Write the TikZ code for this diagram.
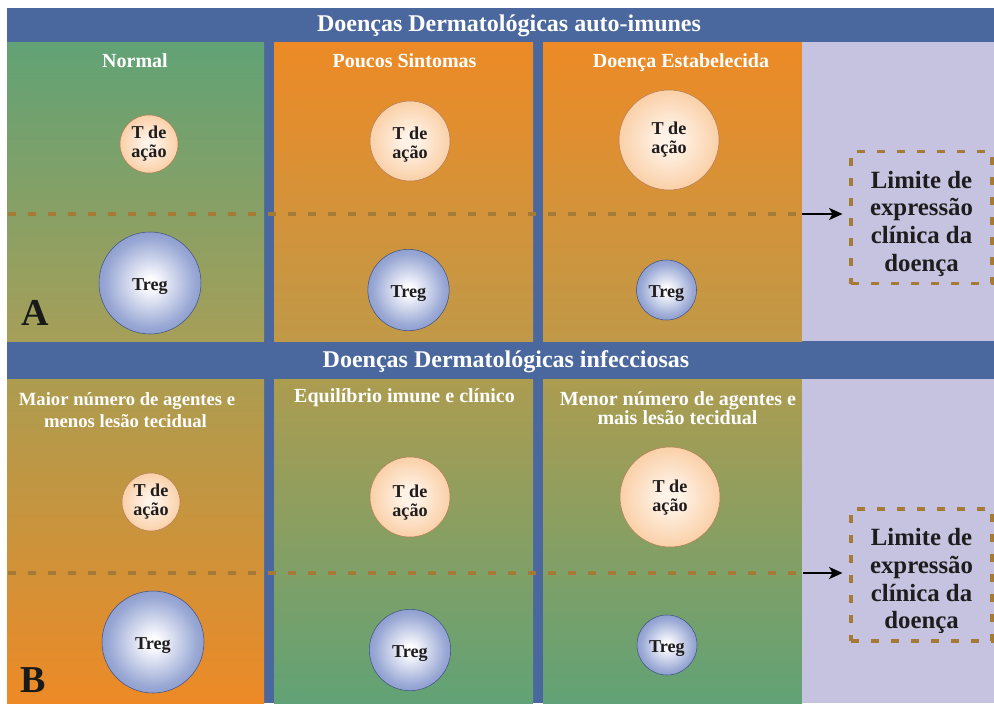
\documentclass[tikz,border=0pt]{standalone}
\usepackage{fontspec}
\setmainfont{Liberation Serif}
\usetikzlibrary{arrows.meta}
\definecolor{frameblue}{RGB}{75,104,158}
\definecolor{lav}{RGB}{197,195,224}
\definecolor{grn}{RGB}{97,162,118}
\definecolor{org}{RGB}{237,138,38}
\definecolor{oliveA}{RGB}{166,159,88}
\definecolor{oliveB}{RGB}{192,153,72}
\definecolor{oliveC}{RGB}{172,156,80}
\definecolor{dashc}{RGB}{164,122,54}
\definecolor{tcenter}{RGB}{255,242,230}
\definecolor{tmid}{RGB}{250,208,168}
\definecolor{tedge}{RGB}{243,166,102}
\definecolor{tline}{RGB}{180,125,85}
\definecolor{rcenter}{RGB}{252,252,255}
\definecolor{rmid}{RGB}{152,167,212}
\definecolor{redge}{RGB}{80,102,166}
\definecolor{rline}{RGB}{62,82,135}
\definecolor{txt}{RGB}{30,28,28}
\pgfdeclareradialshading{tshade}{\pgfpoint{0bp}{0bp}}{color(0bp)=(tcenter); color(5bp)=(tcenter); color(25bp)=(tmid); color(50bp)=(tedge)}
\pgfdeclareradialshading{rshade}{\pgfpoint{0bp}{0bp}}{color(0bp)=(rcenter); color(3bp)=(rcenter); color(22bp)=(rmid); color(50bp)=(redge)}
\newcommand{\limtext}{\raisebox{-5pt}[\height][\depth]{\begin{tabular}{@{}c@{}}Limite de\\expressão\\clínica da\\doença\end{tabular}}}
\newcommand{\tdeacao}[1]{\raisebox{#1}[\height][\depth]{\begin{tabular}{@{}c@{}}T de\\ação\end{tabular}}}
\newcommand{\tregtext}{\raisebox{-2.5pt}[\height][\depth]{Treg}}
\tikzset{
 hdr/.style={text=white, font=\fontsize{18pt}{21pt}\selectfont\bfseries, anchor=base, inner sep=0},
 colh/.style={text=white, font=\fontsize{15pt}{18pt}\selectfont\bfseries, anchor=base, inner sep=0},
 colhs/.style={text=white, font=\fontsize{14pt}{17pt}\selectfont\bfseries, anchor=base, inner sep=0},
 tcell/.style={circle, inner sep=0, shade, shading=tshade, draw=tline, line width=0.4pt, text=txt, font=\fontsize{13.6pt}{14.2pt}\selectfont\bfseries},
 tregcell/.style={circle, inner sep=0, shade, shading=rshade, draw=rline, line width=0.4pt, text=txt, font=\fontsize{13.6pt}{14.4pt}\selectfont\bfseries},
 limbox/.style={draw=dashc, line width=2.3pt, dash pattern=on 6pt off 9pt, minimum width=105.75pt, minimum height=99pt, text=txt, font=\fontsize{18.6pt}{20.8pt}\selectfont\bfseries, inner sep=0},
 limline/.style={draw=dashc, line width=3pt, dash pattern=on 6pt off 9pt},
 arr/.style={-{Stealth[length=10pt,width=9pt,inset=2.5pt]}, line width=1.5pt, black},
 letter/.style={font=\fontsize{28.5pt}{30pt}\selectfont\bfseries, text=black!90, anchor=base west, inner sep=0},
}
\begin{document}
\begin{tikzpicture}[x=0.75pt,y=-0.75pt]
\useasboundingbox (0,0) rectangle (994,703);
\fill[white] (0,0) rectangle (994,703);
\fill[frameblue] (7,8) rectangle (994,703);
% row A panels
\shade[top color=grn, bottom color=oliveA] (7,42) rectangle (264,341);
\shade[top color=org, bottom color=oliveB] (274,42) rectangle (533,341);
\shade[top color=org, bottom color=oliveB] (543,42) rectangle (802,341);
\fill[lav] (802,42) rectangle (994,341);
% row B panels
\shade[top color=oliveC, bottom color=org] (7,379) rectangle (264,703);
\shade[top color=oliveC, bottom color=grn] (274,379) rectangle (533,703);
\shade[top color=oliveC, bottom color=grn] (543,379) rectangle (802,703);
\fill[lav] (802,379) rectangle (994,703);
% headers
\node[hdr] (tA) at (509,31) {Doenças Dermatológicas auto-imunes};
\node[hdr] (tB) at (506,367) {Doenças Dermatológicas infecciosas};
\node[colh] (hA1) at (135,67) {Normal};
\node[colh] (hA2) at (404.5,67) {Poucos Sintomas};
\node[colh] (hA3) at (681,67) {Doença Estabelecida};
\node[colhs] (hB1a) at (127,405) {Maior número de agentes e};
\node[colhs] (hB1b) at (125.5,427) {menos lesão tecidual};
\node[colh] (hB2) at (404.5,402) {Equilíbrio imune e clínico};
\node[colh] (hB3a) at (678,405) {Menor número de agentes e};
\node[colh] (hB3b) at (677.5,424) {mais lesão tecidual};
% dashed limit lines
\coordinate (dA0) at (8,214);
\coordinate (dA1) at (798,214);
\coordinate (dB0) at (8,573);
\coordinate (dB1) at (798,573);
\draw[limline] (dA0) -- (dA1);
\draw[limline] (dB0) -- (dB1);
% cells row A
\node[tcell, minimum size=43.5pt] (tA1) at (149,144) {\tdeacao{-0.5pt}};
\node[tcell, minimum size=60pt] (tA2) at (410,141) {\tdeacao{-3.5pt}};
\node[tcell, minimum size=75pt] (tA3) at (669,140) {\tdeacao{-0.5pt}};
\node[tregcell, minimum size=76.5pt] (rA1) at (150,283) {\tregtext};
\node[tregcell, minimum size=61pt] (rA2) at (408.5,290) {\tregtext};
\node[tregcell, minimum size=45pt] (rA3) at (666.5,290) {\tregtext};
% cells row B
\node[tcell, minimum size=43.5pt] (tB1) at (151,502) {\tdeacao{-0.5pt}};
\node[tcell, minimum size=60pt] (tB2) at (410,497) {\tdeacao{-5pt}};
\node[tcell, minimum size=75pt] (tB3) at (670,497) {\tdeacao{-1pt}};
\node[tregcell, minimum size=76.5pt] (rB1) at (153,642) {\tregtext};
\node[tregcell, minimum size=61pt] (rB2) at (410,650) {\tregtext};
\node[tregcell, minimum size=45pt] (rB3) at (667,645) {\tregtext};
% limit boxes
\node[limbox] (limA) at (921.5,217.5) {\limtext};
\node[limbox] (limB) at (921.5,575) {\limtext};
\coordinate (aA) at (802,214);
\coordinate (aB) at (803,573);
\draw[arr, shorten >=5.25pt] (aA) -- (aA -| limA.west);
\draw[arr, shorten >=5.25pt] (aB) -- (aB -| limB.west);
% letters
\node[letter] (LA) at (21,325) {A};
\node[letter] (LB) at (20,692) {B};
\end{tikzpicture}
\end{document}
